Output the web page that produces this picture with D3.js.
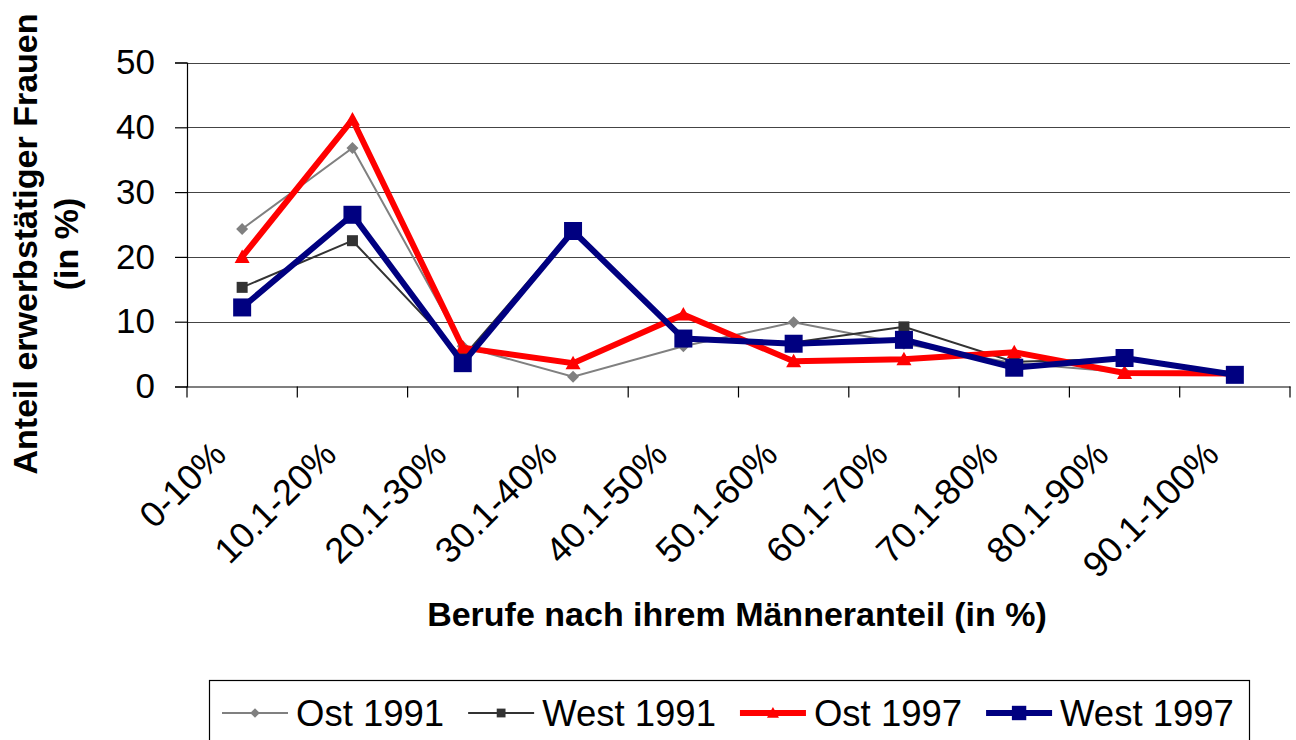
<!DOCTYPE html>
<html>
<head>
<meta charset="utf-8">
<script src="https://cdn.jsdelivr.net/npm/d3@7"></script>
<style>
  html, body { margin: 0; padding: 0; background: #fff; }
  svg { display: block; font-family: "Liberation Sans", Arial, sans-serif; }
</style>
</head>
<body>
<svg id="chart" width="1296" height="740"></svg>
<script>
// ---- data ----
const categories = ["0-10%", "10.1-20%", "20.1-30%", "30.1-40%", "40.1-50%", "50.1-60%", "60.1-70%", "70.1-80%", "80.1-90%", "90.1-100%"];
const ost1991  = [24.3, 36.8, 6.2, 1.5, 6.2, 9.9, 6.6, 3.6, 2.2, 1.9];
const west1991 = [15.3, 22.5, 4.5, 24.2, 7.6, 6.8, 9.2, 3.8, 4.3, 1.9];
const ost1997  = [20.0, 41.2, 6.0, 3.6, 11.1, 3.9, 4.2, 5.3, 2.1, 2.0];
const west1997 = [12.2, 26.5, 3.6, 24.0, 7.4, 6.6, 7.2, 2.9, 4.4, 1.8];
const yTicks = [0, 10, 20, 30, 40, 50];
const seriesNames = ["Ost 1991", "West 1991", "Ost 1997", "West 1997"];
const yTitleLines = ["Anteil erwerbstätiger Frauen", "(in %)"];
const xTitle = "Berufe nach ihrem Männeranteil (in %)";

// ---- layout ----
const svg = d3.select("#chart");
const plot = { left: 187, right: 1290, top: 62.5, bottom: 386.5 };

const x = d3.scaleBand().domain(categories).range([plot.left, plot.right]).padding(0);
const y = d3.scaleLinear().domain([0, 50]).range([plot.bottom, plot.top]);
const cx = c => x(c) + x.bandwidth() / 2;

// gridlines
svg.append("g").selectAll("line").data(yTicks.filter(t => t > 0)).join("line")
  .attr("x1", plot.left).attr("x2", plot.right)
  .attr("y1", d => Math.round(y(d)) + 0.5).attr("y2", d => Math.round(y(d)) + 0.5)
  .attr("stroke", "#444").attr("stroke-width", 1.2);

// y axis
const yAxis = svg.append("g").attr("transform", `translate(${plot.left},0)`)
  .call(d3.axisLeft(y).tickValues(yTicks).tickSize(12).tickPadding(20).tickFormat(d3.format("d")));
yAxis.select(".domain").attr("stroke", "#000").attr("stroke-width", 1.2);
yAxis.selectAll(".tick line").attr("stroke", "#000").attr("stroke-width", 1.2);
yAxis.selectAll(".tick text").attr("font-size", 35).attr("fill", "#000")
  .attr("font-family", "Liberation Sans, Arial, sans-serif");

// x axis
const xAxis = svg.append("g").attr("transform", `translate(0,${plot.bottom})`)
  .call(d3.axisBottom(x).tickSize(0).tickFormat(""));
xAxis.select(".domain").attr("stroke", "#000").attr("stroke-width", 1.2);
xAxis.selectAll(".tick").remove();
// boundary ticks
const bounds = categories.map(c => x(c)).concat([plot.right]);
svg.append("g").selectAll("line").data(bounds).join("line")
  .attr("x1", d => d).attr("x2", d => d)
  .attr("y1", plot.bottom).attr("y2", plot.bottom + 11)
  .attr("stroke", "#000").attr("stroke-width", 1.2);
// rotated category labels
svg.append("g").selectAll("text").data(categories).join("text")
  .attr("transform", d => `translate(${cx(d) - 14},${plot.bottom + 70}) rotate(-45)`)
  .attr("text-anchor", "end")
  .attr("font-size", 36).attr("fill", "#000")
  .text(d => d);

// series
const series = [
  { name: seriesNames[0], values: ost1991,  color: "#808080", width: 2,   marker: "diamond", size: 12 },
  { name: seriesNames[1], values: west1991, color: "#333333", width: 2,   marker: "square",  size: 11 },
  { name: seriesNames[2], values: ost1997,  color: "#ff0000", width: 6,   marker: "triangle", size: 15 },
  { name: seriesNames[3], values: west1997, color: "#000080", width: 6,   marker: "square",  size: 18 }
];

function markerPath(type, s) {
  const h = s / 2;
  if (type === "diamond") return `M0,${-h}L${h},0L0,${h}L${-h},0Z`;
  if (type === "square") return `M${-h},${-h}H${h}V${h}H${-h}Z`;
  if (type === "triangle") return `M0,${-h}L${h},${h * 0.8}L${-h},${h * 0.8}Z`;
}

const line = d3.line().x((d, i) => cx(categories[i])).y(d => y(d));
series.forEach(s => {
  const g = svg.append("g");
  g.append("path").datum(s.values).attr("d", line)
    .attr("fill", "none").attr("stroke", s.color).attr("stroke-width", s.width)
    .attr("stroke-linejoin", "miter").attr("stroke-miterlimit", 10);
  g.selectAll("path.m").data(s.values).join("path").attr("class", "m")
    .attr("transform", (d, i) => `translate(${cx(categories[i])},${y(d)})`)
    .attr("d", markerPath(s.marker, s.size))
    .attr("fill", s.color);
});

// axis titles
const yt = svg.append("text")
  .attr("transform", "translate(37,244) rotate(-90)")
  .attr("text-anchor", "middle").attr("font-size", 34).attr("font-weight", "bold").attr("fill", "#000");
yt.append("tspan").attr("x", 0).attr("y", 0).text(yTitleLines[0]);
yt.append("tspan").attr("x", 0).attr("y", 41).text(yTitleLines[1]);

svg.append("text")
  .attr("x", 737).attr("y", 626)
  .attr("text-anchor", "middle").attr("font-size", 34).attr("font-weight", "bold").attr("fill", "#000")
  .text(xTitle);

// legend
const legend = svg.append("g");
legend.append("rect").attr("x", 209.5).attr("y", 680.5).attr("width", 1040).attr("height", 70)
  .attr("fill", "#fff").attr("stroke", "#000").attr("stroke-width", 1.2);
let lx = 222;
const ly = 713;
series.forEach(s => {
  const g = legend.append("g");
  g.append("line").attr("x1", lx).attr("x2", lx + 66).attr("y1", ly).attr("y2", ly)
    .attr("stroke", s.color).attr("stroke-width", s.width);
  g.append("path").attr("transform", `translate(${lx + 33},${ly})`)
    .attr("d", markerPath(s.marker, s.size * 0.8)).attr("fill", s.color);
  const t = g.append("text").attr("x", lx + 74).attr("y", ly + 12.5)
    .attr("font-size", 36.5).attr("fill", "#000").text(s.name);
  const w = t.node().getComputedTextLength();
  lx = lx + 74 + w + 24;
});
</script>
</body>
</html>
